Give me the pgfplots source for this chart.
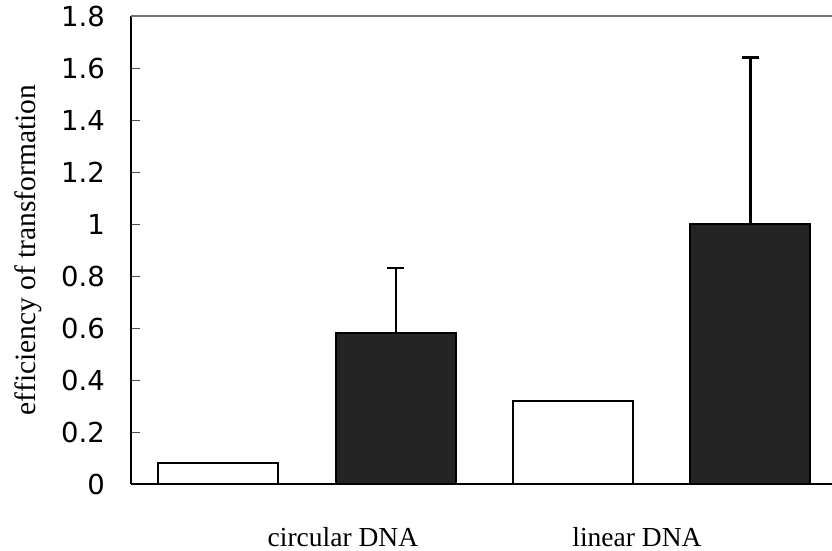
\documentclass[border=0pt]{standalone}
\usepackage{pgfplots}
\pgfplotsset{compat=1.18}
\usepackage{fontspec}
\setmainfont{Liberation Serif}
\newfontfamily\sansf{DejaVu Sans}
\definecolor{darkbar}{RGB}{36,36,36}
\begin{document}
\begin{tikzpicture}
\useasboundingbox (-131pt,-67pt) rectangle (701pt,484pt);
\begin{axis}[
  at={(0,0)}, anchor=south west,
  scale only axis, width=701pt, height=468pt,
  xmin=0.507, xmax=4.46, ymin=0, ymax=1.8,
  axis lines=left,
  axis line style={-, line width=1.4pt, black},
  ytick={0,0.2,...,1.8},
  yticklabels={0,0.2,0.4,0.6,0.8,1,1.2,1.4,1.6,1.8},
  tick align=inside,
  major tick length=9pt,
  tick style={line width=0.9pt, black!70},
  xtick={1.702,3.36},
  xticklabels={circular DNA, linear DNA},
  x tick style={draw=none},
  yticklabel style={font=\sansf\fontsize{27.5}{27.5}\selectfont, anchor=east, inner sep=0pt, xshift=-26pt},
  xticklabel style={font=\fontsize{27.5}{27.5}\selectfont, anchor=base, inner sep=0pt, yshift=-53pt},
  ylabel={efficiency of transformation},
  ylabel style={font=\fontsize{29.5}{29.5}\selectfont, at={(axis description cs:0,0.5)}, anchor=center, yshift=103pt},
  ybar, bar shift=0pt, bar width=0.677,
  clip=false,
]
\addplot[draw=black, line width=2pt, fill=white] coordinates {(1,0.08) (3,0.32)};
\addplot[draw=black, line width=2pt, fill=darkbar,
  error bars/.cd, y dir=plus, y explicit,
  error bar style={line width=2.2pt, black},
  error mark options={rotate=90, mark size=8.5pt, line width=2.2pt, black}]
  coordinates {(2,0.58) +- (0,0.25) (4,1.0) +- (0,0.64)};
\draw[line width=1.8pt, black!55] (rel axis cs:0,1) -- (rel axis cs:1,1);
\end{axis}
\end{tikzpicture}
\end{document}
